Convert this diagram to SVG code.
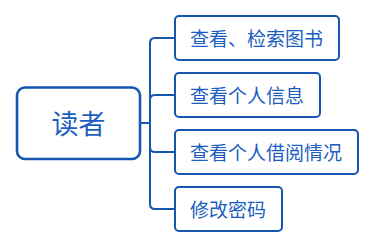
<svg xmlns="http://www.w3.org/2000/svg" width="375" height="248" viewBox="0 0 375 248">
<style>
.box{fill:#fff;stroke:#1557b0;stroke-width:2}
.root{fill:#fff;stroke:#1557b0;stroke-width:2.6}
.t{font-family:"Noto Sans CJK SC","Noto Sans",sans-serif;fill:#1a5ec2;font-size:19px}
.rt{font-family:"Noto Sans CJK SC","Noto Sans",sans-serif;fill:#1a5ec2;font-size:27px}
.c{fill:none;stroke:#1557b0;stroke-width:2}
</style>
<rect width="375" height="248" fill="#fff"/>
<g id="connectors">
<path class="c" d="M140 123 H150"/>
<path class="c" d="M175 38 H155 Q150 38 150 43 V204 Q150 209 155 209 H175"/>
<path class="c" d="M175 95 H155 Q150 95 150 100"/>
<path class="c" d="M175 152 H155 Q150 152 150 147"/>
</g>
<g id="root">
<rect class="root" x="17" y="87.5" width="123" height="71.5" rx="8"/>
<text class="rt" x="78.5" y="134" text-anchor="middle">读者</text>
</g>
<g id="n1">
<rect class="box" x="175" y="16" width="164" height="44" rx="4"/>
<text class="t" x="190" y="45.5">查看、检索图书</text>
</g>
<g id="n2">
<rect class="box" x="175" y="73" width="145" height="44" rx="4"/>
<text class="t" x="190" y="102.5">查看个人信息</text>
</g>
<g id="n3">
<rect class="box" x="175" y="130" width="183" height="44" rx="4"/>
<text class="t" x="190" y="159.5">查看个人借阅情况</text>
</g>
<g id="n4">
<rect class="box" x="175" y="187" width="107" height="44" rx="4"/>
<text class="t" x="190" y="216.5">修改密码</text>
</g>
</svg>
